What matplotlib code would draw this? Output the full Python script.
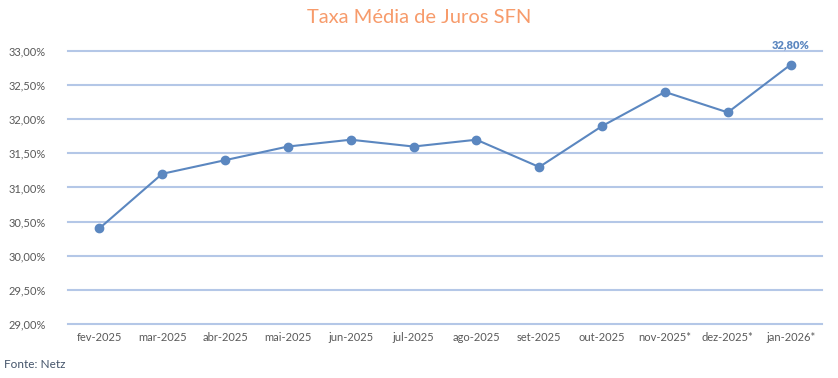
import matplotlib
matplotlib.use("Agg")
import matplotlib.pyplot as plt
from matplotlib.ticker import FuncFormatter

categories = ["fev-2025", "mar-2025", "abr-2025", "mai-2025", "jun-2025", "jul-2025",
              "ago-2025", "set-2025", "out-2025", "nov-2025*", "dez-2025*", "jan-2026*"]
values = [30.40, 31.20, 31.40, 31.60, 31.70, 31.60, 31.70, 31.30, 31.90, 32.40, 32.10, 32.80]
yticks = [29.0, 29.5, 30.0, 30.5, 31.0, 31.5, 32.0, 32.5, 33.0]

plt.rcParams['font.family'] = ['Lato', 'DejaVu Sans']

fig = plt.figure(figsize=(8.38, 3.78), dpi=100)
ax = fig.add_axes([0.081, 0.1429, 0.900, 0.7222])

line_color = "#5B87C0"
grid_color = "#B4C7E7"

x = list(range(len(categories)))
ax.plot(x, values, color=line_color, lw=1.5, marker='o', ms=6, zorder=3, clip_on=False)

ax.set_xlim(-0.5, len(categories) - 0.5)
ax.set_ylim(29.0, 33.0)
ax.set_yticks(yticks)
ax.yaxis.set_major_formatter(FuncFormatter(lambda v, p: f"{v:.2f}%".replace('.', ',')))
ax.set_xticks(x)
ax.set_xticklabels(categories)

for y in yticks:
    ax.axhline(y, color=grid_color, lw=1.5, zorder=1, clip_on=False)

for s in ax.spines.values():
    s.set_visible(False)
ax.tick_params(axis='both', length=0, labelsize=8, labelcolor="#595959")
ax.tick_params(axis='y', pad=16)
ax.tick_params(axis='x', pad=6)

ax.annotate(f"{values[-1]:.2f}%".replace('.', ','), (x[-1], values[-1]),
            xytext=(0, 10), textcoords='offset points', ha='center', va='bottom',
            fontsize=8, fontweight='heavy', color=line_color)

fig.text(0.5, 0.953, "Taxa Média de Juros SFN", ha='center', va='center',
         fontsize=14.5, color="#F79B6B")
fig.text(0.005, 0.035, "Fonte: Netz", ha='left', va='center', fontsize=8.5, color="#44546A")

fig.savefig("out.png", dpi=100)
